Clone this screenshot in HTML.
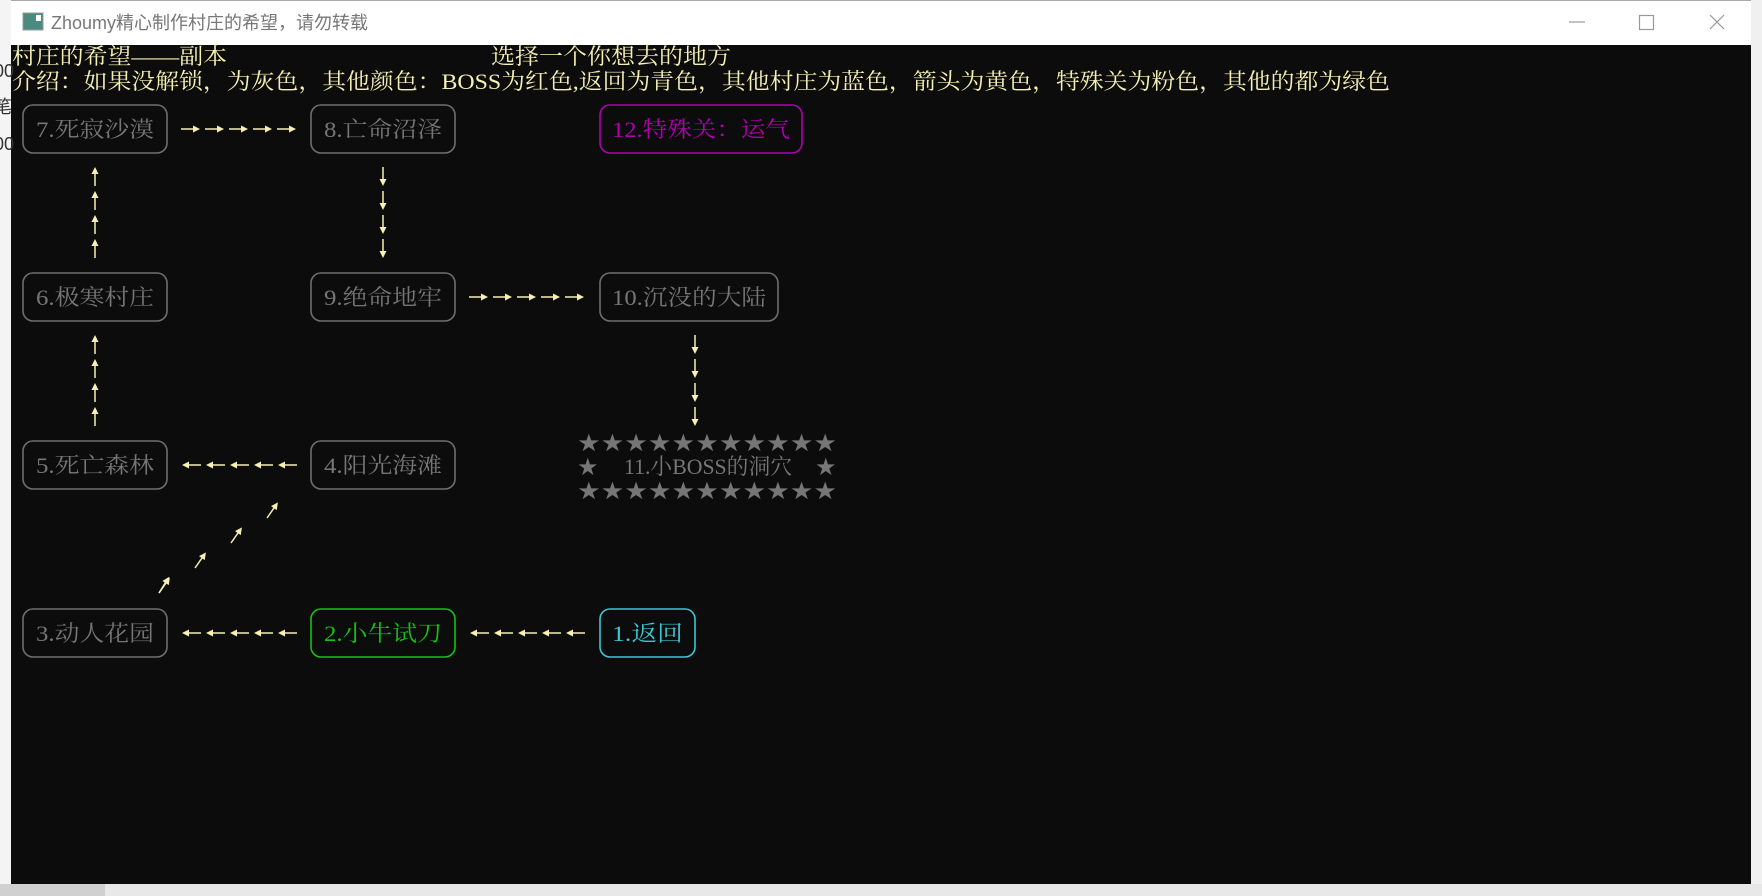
<!DOCTYPE html>
<html><head><meta charset="utf-8"><style>
html,body{margin:0;padding:0;width:1762px;height:896px;overflow:hidden;background:#f3f3f3}
svg{display:block}
</style></head><body>
<svg width="1762" height="896" xmlns="http://www.w3.org/2000/svg" font-family="'Liberation Serif','Noto Serif CJK SC',serif">
<rect x="0" y="0" width="1762" height="896" fill="#f4f4f4"/>
<rect x="0" y="884" width="1762" height="12" fill="#e8e8e8"/>
<rect x="0" y="884" width="105" height="12" fill="#d0d0d0"/>
<!-- window -->
<rect x="11" y="0" width="1740" height="45" fill="#ffffff"/>
<rect x="11" y="0" width="1740" height="1" fill="#aaaaaa"/>
<rect x="11" y="45" width="1740" height="839" fill="#0c0c0c"/>
<rect x="1751" y="0" width="11" height="884" fill="#f0f0f0"/>
<!-- title bar -->
<rect x="23" y="13" width="20" height="17" fill="#4a8a80" stroke="#999" stroke-width="1"/>
<rect x="36" y="15" width="5" height="6" fill="#fff"/>
<text x="51" y="29" font-family="'Liberation Sans','Noto Sans CJK SC',sans-serif" font-size="18" fill="#777">Zhoumy精心制作村庄的希望，请勿转载</text>
<line x1="1569" y1="22" x2="1585" y2="22" stroke="#999" stroke-width="1.2"/>
<rect x="1639.5" y="15.5" width="14" height="14" fill="none" stroke="#999" stroke-width="1.2"/>
<line x1="1710" y1="15" x2="1724" y2="29" stroke="#999" stroke-width="1.2"/>
<line x1="1724" y1="15" x2="1710" y2="29" stroke="#999" stroke-width="1.2"/>
<!-- header -->
<g fill="#f6f0b4" font-size="22">
<text x="12" y="64" textLength="215" lengthAdjust="spacingAndGlyphs">村庄的希望——副本</text>
<text x="491" y="64" textLength="240" lengthAdjust="spacingAndGlyphs">选择一个你想去的地方</text>
<text x="12" y="89" textLength="1378" lengthAdjust="spacingAndGlyphs">介绍：如果没解锁，为灰色，其他颜色：BOSS为红色,返回为青色，其他村庄为蓝色，箭头为黄色，特殊关为粉色，其他的都为绿色</text>
</g>
<!-- boxes -->
<g fill="none" stroke-width="1.6">
<rect x="23" y="105" width="144" height="48" rx="10" stroke="#6e6e6e"/>
<rect x="311" y="105" width="144" height="48" rx="10" stroke="#6e6e6e"/>
<rect x="600" y="105" width="202" height="48" rx="10" stroke="#b000b0"/>
<rect x="23" y="273" width="144" height="48" rx="10" stroke="#6e6e6e"/>
<rect x="311" y="273" width="144" height="48" rx="10" stroke="#6e6e6e"/>
<rect x="600" y="273" width="178" height="48" rx="10" stroke="#6e6e6e"/>
<rect x="23" y="441" width="144" height="48" rx="10" stroke="#6e6e6e"/>
<rect x="311" y="441" width="144" height="48" rx="10" stroke="#6e6e6e"/>
<rect x="23" y="609" width="144" height="48" rx="10" stroke="#6e6e6e"/>
<rect x="311" y="609" width="144" height="48" rx="10" stroke="#13c313"/>
<rect x="600" y="609" width="95" height="48" rx="10" stroke="#3ac8d8"/>
</g>
<g font-size="22">
<text x="36" y="137" fill="#767676" textLength="118" lengthAdjust="spacingAndGlyphs">7.死寂沙漠</text>
<text x="324" y="137" fill="#767676" textLength="118" lengthAdjust="spacingAndGlyphs">8.亡命沼泽</text>
<text x="612" y="137" fill="#b000b0" textLength="178" lengthAdjust="spacingAndGlyphs">12.特殊关：运气</text>
<text x="36" y="305" fill="#767676" textLength="118" lengthAdjust="spacingAndGlyphs">6.极寒村庄</text>
<text x="324" y="305" fill="#767676" textLength="118" lengthAdjust="spacingAndGlyphs">9.绝命地牢</text>
<text x="612" y="305" fill="#767676" textLength="154" lengthAdjust="spacingAndGlyphs">10.沉没的大陆</text>
<text x="36" y="473" fill="#767676" textLength="118" lengthAdjust="spacingAndGlyphs">5.死亡森林</text>
<text x="324" y="473" fill="#767676" textLength="118" lengthAdjust="spacingAndGlyphs">4.阳光海滩</text>
<text x="36" y="641" fill="#767676" textLength="118" lengthAdjust="spacingAndGlyphs">3.动人花园</text>
<text x="324" y="641" fill="#13c313" textLength="118" lengthAdjust="spacingAndGlyphs">2.小牛试刀</text>
<text x="612" y="641" fill="#3ac8d8" textLength="71" lengthAdjust="spacingAndGlyphs">1.返回</text>
</g>
<!-- boss stars -->
<g fill="#767676" font-family="'DejaVu Sans',sans-serif" font-size="24">
<text x="577" y="451" textLength="260" lengthAdjust="spacingAndGlyphs">★★★★★★★★★★★</text>
<text x="577" y="499" textLength="260" lengthAdjust="spacingAndGlyphs">★★★★★★★★★★★</text>
<text x="577" y="475">★</text>
<text x="815" y="475">★</text>
</g>
<text x="624" y="474" fill="#767676" font-size="22" textLength="168" lengthAdjust="spacingAndGlyphs">11.小BOSS的洞穴</text>
<!-- arrows -->
<defs>
<g id="ar"><line x1="0" y1="0" x2="17" y2="0" stroke="#f6f0b4" stroke-width="1.5"/><path d="M19,0 L12,-3.5 L12,3.5 Z" fill="#f6f0b4"/></g>
</defs>
<!-- right arrows -->
<g>
<use href="#ar" x="181" y="129"/><use href="#ar" x="205" y="129"/><use href="#ar" x="229" y="129"/><use href="#ar" x="253" y="129"/><use href="#ar" x="277" y="129"/>
<use href="#ar" x="469" y="297"/><use href="#ar" x="493" y="297"/><use href="#ar" x="517" y="297"/><use href="#ar" x="541" y="297"/><use href="#ar" x="565" y="297"/>
</g>
<!-- left arrows -->
<g transform="translate(478,930) rotate(180)">
<use href="#ar" x="181" y="465"/><use href="#ar" x="205" y="465"/><use href="#ar" x="229" y="465"/><use href="#ar" x="253" y="465"/><use href="#ar" x="277" y="465"/>
</g>
<g transform="translate(478,1266) rotate(180)">
<use href="#ar" x="181" y="633"/><use href="#ar" x="205" y="633"/><use href="#ar" x="229" y="633"/><use href="#ar" x="253" y="633"/><use href="#ar" x="277" y="633"/>
</g>
<g transform="translate(1054,1266) rotate(180)">
<use href="#ar" x="469" y="633"/><use href="#ar" x="493" y="633"/><use href="#ar" x="517" y="633"/><use href="#ar" x="541" y="633"/><use href="#ar" x="565" y="633"/>
</g>
<!-- up arrows col 1 -->
<g transform="rotate(-90 95 0)">
<use href="#ar" x="-163" y="0"/><use href="#ar" x="-139" y="0"/><use href="#ar" x="-115" y="0"/><use href="#ar" x="-91" y="0"/>
<use href="#ar" x="-331" y="0"/><use href="#ar" x="-307" y="0"/><use href="#ar" x="-283" y="0"/><use href="#ar" x="-259" y="0"/>
</g>
<!-- down arrows -->
<g transform="rotate(90 383 0)">
<use href="#ar" x="550" y="0"/><use href="#ar" x="574" y="0"/><use href="#ar" x="598" y="0"/><use href="#ar" x="622" y="0"/>
</g>
<g transform="rotate(90 695 0)">
<use href="#ar" x="1030" y="0"/><use href="#ar" x="1054" y="0"/><use href="#ar" x="1078" y="0"/><use href="#ar" x="1102" y="0"/>
</g>
<!-- diagonal arrows -->
<g transform="rotate(-58)">
<use href="#ar" x="0" y="0" transform="rotate(58) translate(159,593) rotate(-58)"/>
</g>
<g>
<use href="#ar" transform="translate(159,593) rotate(-55)"/>
<use href="#ar" transform="translate(195,568) rotate(-55)"/>
<use href="#ar" transform="translate(231,543) rotate(-55)"/>
<use href="#ar" transform="translate(267,518) rotate(-55)"/>
</g>
<!-- left desktop remnants -->
<g fill="#333" font-family="'Liberation Sans','Noto Sans CJK SC',sans-serif" font-size="18">
<text x="-6" y="77">00</text><text x="-6" y="113">笔</text><text x="-6" y="150">00</text>
</g>
</svg>
</body></html>
